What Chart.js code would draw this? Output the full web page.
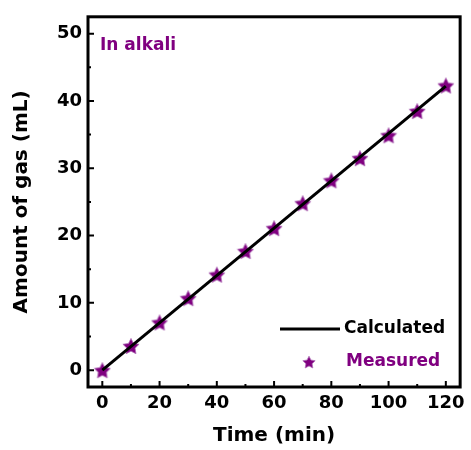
<!DOCTYPE html>
<html>
<head>
<meta charset="utf-8">
<script src="https://cdn.jsdelivr.net/npm/chart.js@4/dist/chart.umd.min.js"></script>
<style>
  body { margin: 0; background: #fff; }
  #wrap { width: 471px; height: 450px; }
</style>
</head>
<body>
<div id="wrap"><canvas id="gasChart" width="471" height="450"></canvas></div>
<script>
// data
var time = [0, 10, 20, 30, 40, 50, 60, 70, 80, 90, 100, 110, 120];
var measured = [0, 3.6, 7.1, 10.7, 14.2, 17.7, 21.1, 24.8, 28.2, 31.5, 34.9, 38.5, 42.3];
var calcTime = [0, 120];
var calcGas = [0, 42.2];

var xTicks = [0, 20, 40, 60, 80, 100, 120];
var xMinor = [10, 30, 50, 70, 90, 110];
var yTicks = [0, 10, 20, 30, 40, 50];
var yMinor = [5, 15, 25, 35, 45];

var purple = '#800080';
var font = 'DejaVu Sans';

// filled five point star used as the marker
function makeStar(size) {
    var c = document.createElement('canvas');
    c.width = size;
    c.height = size;
    var g = c.getContext('2d');
    var cx = size / 2, cy = size / 2 + size * 0.05;
    var ro = size / 2 - 0.5, ri = ro * 0.5;
    g.beginPath();
    for (var i = 0; i < 10; i++) {
        var r = (i % 2 == 0) ? ro : ri;
        var a = -Math.PI / 2 + i * Math.PI / 5;
        var px = cx + r * Math.cos(a), py = cy + r * Math.sin(a);
        if (i == 0) g.moveTo(px, py); else g.lineTo(px, py);
    }
    g.closePath();
    g.fillStyle = purple;
    g.fill();
    g.strokeStyle = '#b070b8';
    g.lineWidth = 0.8;
    g.stroke();
    return c;
}
var star = makeStar(18);
var legendStar = makeStar(14);

function pts(xs, ys) {
    var out = [];
    for (var i = 0; i < xs.length; i++) out.push({x: xs[i], y: ys[i]});
    return out;
}

// frame, inward ticks, note and legend
var decor = {
    id: 'decor',
    afterDatasetsDraw: function (chart) {
        var ctx = chart.ctx;
        var a = chart.chartArea;
        var xs = chart.scales.x, ys = chart.scales.y;
        ctx.save();
        ctx.strokeStyle = '#000';
        ctx.lineWidth = 2;
        ctx.beginPath();
        xTicks.forEach(function (v) {
            var p = xs.getPixelForValue(v);
            ctx.moveTo(p, a.bottom); ctx.lineTo(p, a.bottom - 6);
        });
        xMinor.forEach(function (v) {
            var p = xs.getPixelForValue(v);
            ctx.moveTo(p, a.bottom); ctx.lineTo(p, a.bottom - 3);
        });
        yTicks.forEach(function (v) {
            var p = ys.getPixelForValue(v);
            ctx.moveTo(a.left, p); ctx.lineTo(a.left + 6, p);
        });
        yMinor.forEach(function (v) {
            var p = ys.getPixelForValue(v);
            ctx.moveTo(a.left, p); ctx.lineTo(a.left + 3, p);
        });
        ctx.stroke();

        ctx.lineWidth = 3;
        ctx.strokeRect(a.left, a.top, a.right - a.left, a.bottom - a.top);

        ctx.fillStyle = purple;
        ctx.font = 'bold 17px "' + font + '"';
        ctx.textBaseline = 'middle';
        ctx.textAlign = 'left';
        ctx.fillText('In alkali', a.left + 12, a.top + 29);

        // legend
        var ds = chart.data.datasets;
        var lx = 344, ly1 = 329, ly2 = 362;
        ctx.strokeStyle = '#000';
        ctx.lineWidth = 3;
        ctx.beginPath();
        ctx.moveTo(280, ly1); ctx.lineTo(340, ly1);
        ctx.stroke();
        ctx.fillStyle = '#000';
        ctx.fillText(ds[0].label, lx, ly1);
        ctx.drawImage(legendStar, 309 - 7, ly2 - 7);
        ctx.fillStyle = purple;
        ctx.fillText(ds[1].label, lx + 2, ly2);
        ctx.restore();
    }
};

var ctx = document.getElementById('gasChart').getContext('2d');
var myChart = new Chart(ctx, {
    type: 'scatter',
    data: {
        datasets: [{
            label: 'Calculated',
            data: pts(calcTime, calcGas),
            showLine: true,
            borderColor: '#000',
            borderWidth: 3,
            pointRadius: 0,
            order: 0
        }, {
            label: 'Measured',
            data: pts(time, measured),
            pointStyle: star,
            pointRadius: 9,
            backgroundColor: purple,
            borderColor: purple,
            order: 1
        }]
    },
    options: {
        responsive: false,
        animation: false,
        devicePixelRatio: 1,
        layout: { padding: { left: 0, right: 10, top: 14, bottom: 0 } },
        plugins: {
            legend: { display: false },
            tooltip: { enabled: false }
        },
        scales: {
            x: {
                type: 'linear',
                min: -5,
                max: 125,
                afterBuildTicks: function (s) { s.ticks = xTicks.map(function (v) { return {value: v}; }); },
                afterFit: function (s) { s.height = 63; },
                grid: { display: false, drawTicks: false },
                border: { display: false },
                ticks: { color: '#000', padding: 6, font: { family: font, size: 18, weight: 'bold' } },
                title: {
                    display: true,
                    text: 'Time (min)',
                    color: '#000',
                    padding: { top: 0, bottom: 2 },
                    font: { family: font, size: 20, weight: 'bold' }
                }
            },
            y: {
                type: 'linear',
                min: -2.5,
                max: 52.5,
                afterBuildTicks: function (s) { s.ticks = yTicks.map(function (v) { return {value: v}; }); },
                afterFit: function (s) { s.width = 88; },
                grid: { display: false, drawTicks: false },
                border: { display: false },
                ticks: { color: '#000', padding: 6, font: { family: font, size: 18, weight: 'bold' } },
                title: {
                    display: true,
                    text: 'Amount of gas (mL)',
                    color: '#000',
                    padding: { top: 10, bottom: 0 },
                    font: { family: font, size: 20, weight: 'bold' }
                }
            }
        }
    },
    plugins: [decor]
});
</script>
</body>
</html>
